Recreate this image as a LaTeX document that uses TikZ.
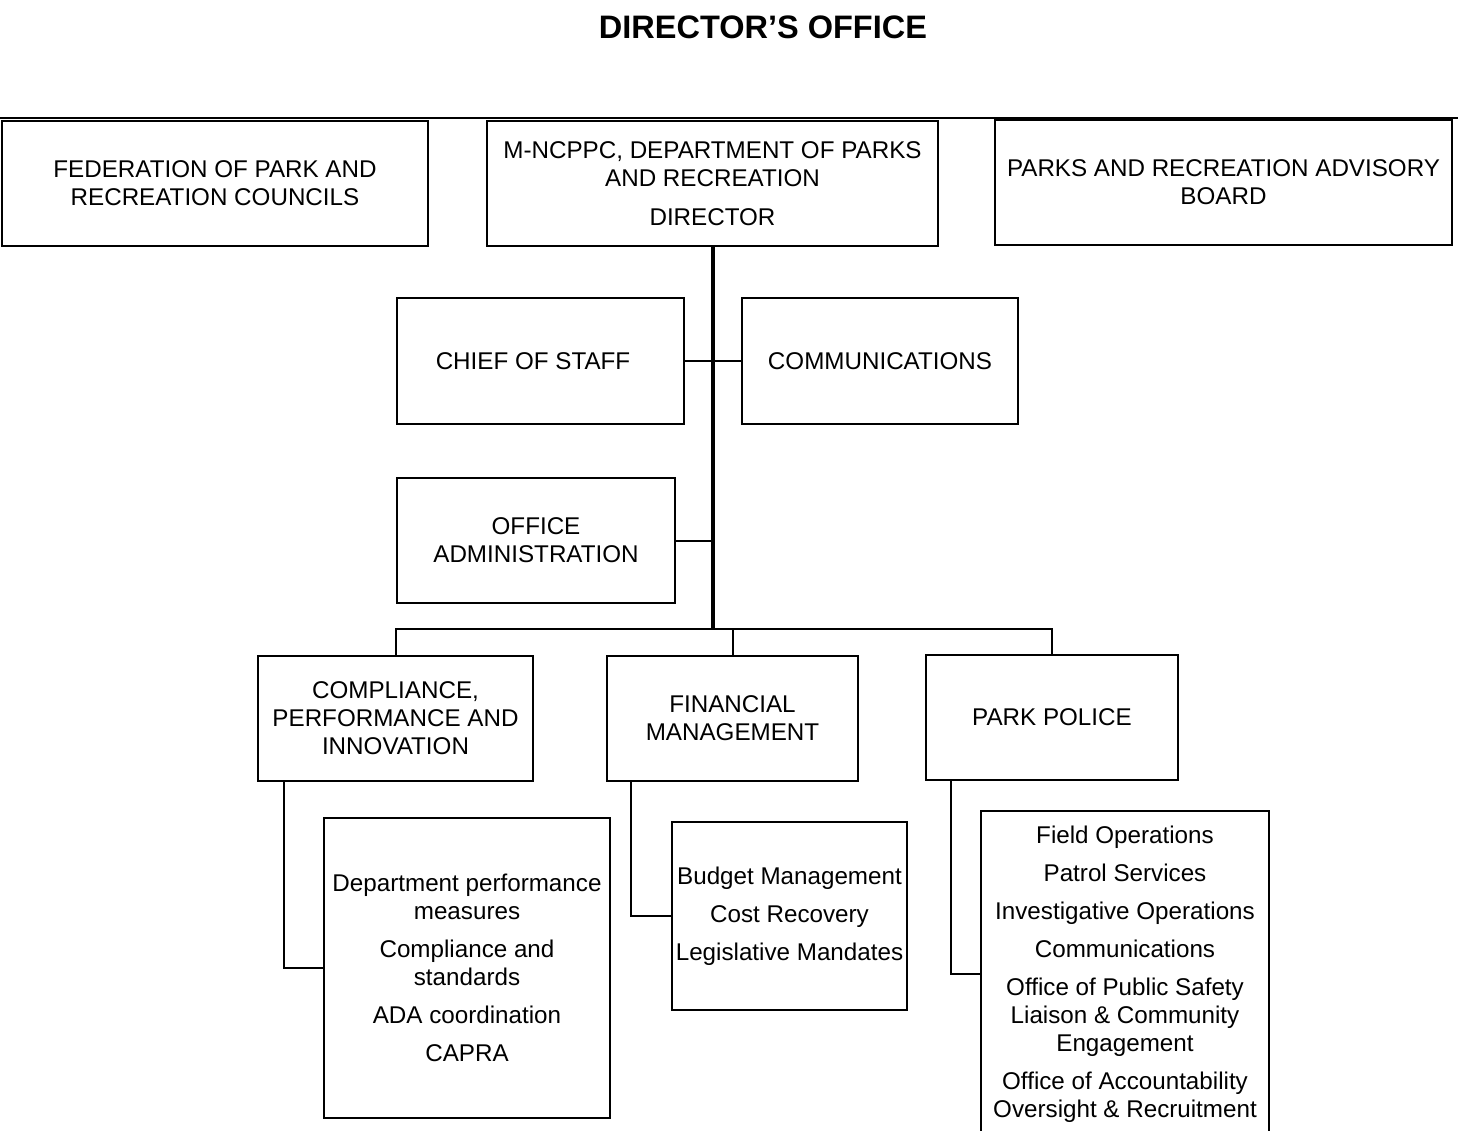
\documentclass[tikz,border=0pt]{standalone}
\usepackage{fontspec}
\setmainfont{Liberation Sans}
\usetikzlibrary{calc}
\begin{document}
\begin{tikzpicture}[x=1pt,y=-1pt,
  box/.style={draw=black,line width=2pt,rectangle,inner sep=0pt,align=center,
    font=\fontsize{24.2}{28}\selectfont},
  conn/.style={draw=black,line width=2pt},
  trunk/.style={draw=black,line width=4pt},
]
\useasboundingbox (0,0) rectangle (1460,1131);
\clip (0,0) rectangle (1460,1131);
\fill[white] (0,0) rectangle (1460,1131);

\node[font=\bfseries\fontsize{32.5}{36}\selectfont] (title) at (763,27) {DIRECTOR’S OFFICE};
\coordinate (rl) at (0,118);
\coordinate (rr) at (1458,118);
\draw[line width=1.2pt] (rl) -- (rr);

\node[box,minimum width=426pt,minimum height=125pt] (fed) at (215,183.5)
  {FEDERATION OF PARK AND\\RECREATION COUNCILS};
\node[box,minimum width=451pt,minimum height=125pt] (dir) at (712.5,183.5)
  {M-NCPPC, DEPARTMENT OF PARKS\\AND RECREATION\\[11pt]DIRECTOR};
\node[box,minimum width=457pt,minimum height=125pt] (adv) at (1223.5,182.5)
  {PARKS AND RECREATION ADVISORY\\BOARD};

\node[box,minimum width=287pt,minimum height=126pt] (cos) at (540.5,361)
  {CHIEF OF STAFF\hspace*{15pt}};
\node[box,minimum width=276pt,minimum height=126pt] (com) at (880,361)
  {COMMUNICATIONS};
\node[box,minimum width=278pt,minimum height=125pt] (adm) at (536,540.5)
  {OFFICE\\ADMINISTRATION};

\node[box,minimum width=275pt,minimum height=125pt] (cpi) at (395.5,718.5)
  {COMPLIANCE,\\PERFORMANCE AND\\INNOVATION};
\node[box,minimum width=251pt,minimum height=125pt] (fin) at (732.5,718.5)
  {FINANCIAL\\MANAGEMENT};
\node[box,minimum width=252pt,minimum height=125pt] (pol) at (1052,717.5)
  {PARK POLICE};

\node[box,minimum width=286pt,minimum height=300pt] (cpis) at (467,968)
  {Department performance\\measures\\[10pt]Compliance and\\standards\\[10pt]ADA coordination\\[10pt]CAPRA};
\node[box,minimum width=235pt,minimum height=188pt] (fins) at (789.5,916)
  {Budget Management\\[10pt]Cost Recovery\\[10pt]Legislative Mandates};
\node[box,minimum width=288pt,minimum height=326pt] (pols) at (1125,974)
  {Field Operations\\[10pt]Patrol Services\\[10pt]Investigative Operations\\[10pt]Communications\\[10pt]Office of Public Safety\\Liaison \& Community\\Engagement\\[10pt]Office of Accountability\\Oversight \& Recruitment};

% trunk and branches
\coordinate (bus) at (dir.south |- 0,629);
\draw[trunk] (dir.south) -- (bus);
\draw[conn] (cos.east) -- (com.west);
\draw[conn] (adm.east) -- (adm.east -| dir.south);
\draw[conn] (cpi.north) |- (bus);
\draw[conn] (bus) -| (pol.north);
\draw[conn] (fin.north) -- (fin.north |- bus);

% sub connectors
\draw[conn] ($(cpi.south west)+(27,0)$) |- (cpis.west);
\draw[conn] ($(fin.south west)+(25,0)$) |- (fins.west);
\draw[conn] ($(pol.south west)+(26,0)$) |- (pols.west);
\end{tikzpicture}
\end{document}
